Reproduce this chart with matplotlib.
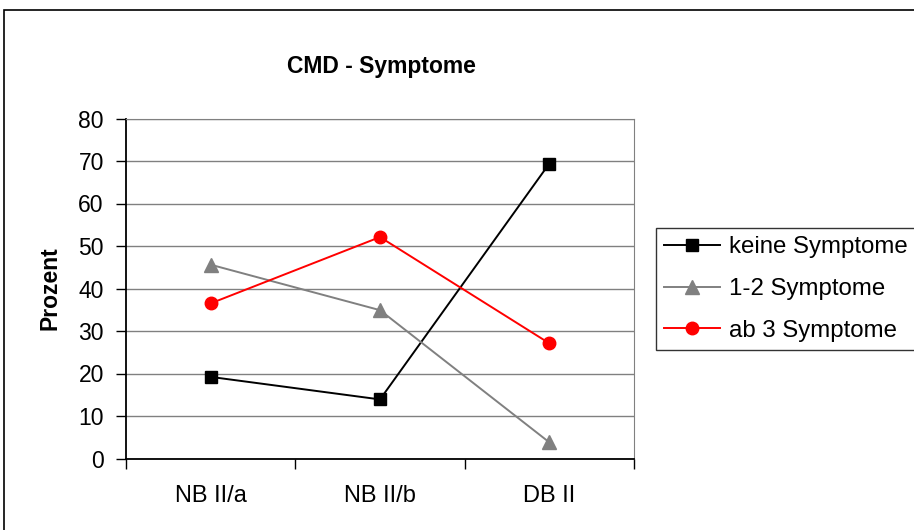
import matplotlib
matplotlib.use("Agg")
import matplotlib.pyplot as plt
from matplotlib.patches import Rectangle

plt.rcParams['font.family'] = ['Liberation Sans', 'DejaVu Sans']

# data
categories = ['NB II/a', 'NB II/b', 'DB II']
keine = [19.2, 13.9, 69.4]
eins_zwei = [45.6, 34.9, 3.8]
ab_drei = [36.5, 52.1, 27.1]
yticks = [0, 10, 20, 30, 40, 50, 60, 70, 80]

fig = plt.figure(figsize=(9.14, 5.30), dpi=100)
ax = fig.add_axes([126/914, 1-458.5/530, 508/914, 340/530])

x = range(len(categories))
ax.plot(x, keine, color='black', marker='s', markersize=9, lw=1.4, label='keine Symptome')
ax.plot(x, eins_zwei, color='#808080', marker='^', markersize=10, lw=1.4, label='1-2 Symptome')
ax.plot(x, ab_drei, color='red', marker='o', markersize=9, lw=1.4, label='ab 3 Symptome')

ax.set_xlim(-0.5, 2.5)
ax.set_ylim(0, 80)
ax.set_yticks(yticks)
ax.set_yticklabels([str(v) for v in yticks], fontsize=16.5)
ax.yaxis.grid(True, color='#808080', lw=1)
ax.set_axisbelow(True)

# category ticks sit between the groups
ax.set_xticks([-0.5, 0.5, 1.5, 2.5])
ax.set_xticklabels([])
ax.set_xticks(list(x), minor=True)
ax.set_xticklabels(categories, minor=True, fontsize=17)
ax.tick_params(axis='x', which='minor', length=0, pad=19)
ax.tick_params(axis='x', which='major', length=7, direction='out', width=1)
ax.tick_params(axis='y', length=7, width=1, pad=9)

ax.spines['left'].set_color('black')
ax.spines['bottom'].set_color('black')
ax.spines['left'].set_linewidth(1.3)
ax.spines['bottom'].set_linewidth(1.3)
ax.spines['top'].set_color('#808080')
ax.spines['right'].set_color('#808080')

fig.text(50/914, 1-288/530, 'Prozent', rotation=90, ha='center', va='center',
         fontsize=16.5, fontweight='bold')
fig.text(381/914, 1-66/530, 'CMD - Symptome', ha='center', va='center',
         fontsize=16.5, fontweight='bold')

leg = fig.legend(loc='upper left', bbox_to_anchor=(656/914, 1-228/530),
                 fontsize=17.3, frameon=True, fancybox=False, edgecolor='black',
                 borderpad=0.35, labelspacing=0.82, handlelength=2.3,
                 handletextpad=0.4, borderaxespad=0)
leg.get_frame().set_linewidth(1)

# outer chart border (clipped at the right and bottom)
fig.patches.append(Rectangle((4/914, -0.1), 1.2, 1.1 - 10/530,
                             transform=fig.transFigure, fill=False,
                             edgecolor='black', lw=1.2))

fig.savefig('out.png', dpi=100)
